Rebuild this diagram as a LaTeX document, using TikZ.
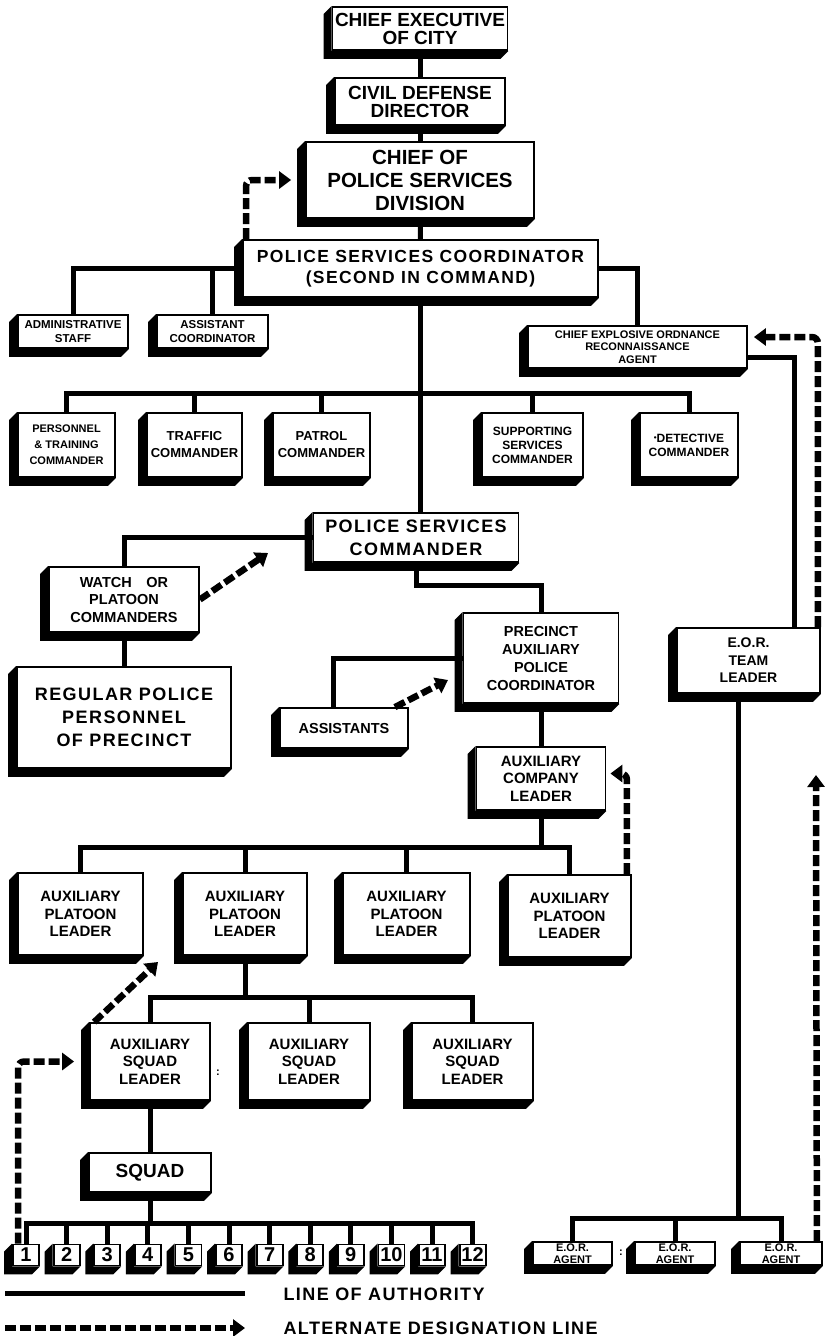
\documentclass[tikz,border=0pt]{standalone}
\usepackage{fontspec}
\setmainfont{Liberation Sans}
\newfontfamily\spacedsans[LetterSpace=8]{Liberation Sans}
\usetikzlibrary{arrows.meta,calc}

\begin{document}
\begin{tikzpicture}[x=1pt, y=-1pt,
    unit/.style={draw, line width=1.8pt, fill=white, align=center, inner sep=1pt},
    topfont/.style={font=\bfseries\fontsize{19}{18}\selectfont},
    plainfont/.style={font=\bfseries\fontsize{20.5}{23}\selectfont},
    widefont/.style={font=\spacedsans\bfseries\fontsize{18}{23}\selectfont},
    midfont/.style={font=\bfseries\fontsize{15}{17.5}\selectfont},
    smallfont/.style={font=\bfseries\fontsize{12}{14}\selectfont},
    tinyfont/.style={font=\bfseries\fontsize{11}{12.5}\selectfont},
    numfont/.style={font=\bfseries\fontsize{20}{20}\selectfont},
    authority/.style={line width=5pt},
    alternate/.style={line width=6.5pt, dash pattern=on 11pt off 4pt, -{Triangle[width=17pt,length=12pt]}}]
    \useasboundingbox (0,0) rectangle (827,1336);

    \node[unit, topfont, minimum width=175pt, minimum height=43pt] (exec) at (420,28.5) {CHIEF EXECUTIVE\\OF CITY};
    \node[unit, topfont, minimum width=170pt, minimum height=47pt] (civil) at (420,101.5) {CIVIL DEFENSE\\DIRECTOR};
    \node[unit, plainfont, minimum width=228pt, minimum height=76pt] (chief) at (420,180) {CHIEF OF\\POLICE SERVICES\\DIVISION};
    \node[unit, widefont, font=\spacedsans\bfseries\fontsize{17.5}{21}\selectfont, minimum width=355pt, minimum height=57pt] (coord) at (420.5,268.5) {POLICE SERVICES COORDINATOR\\(SECOND IN COMMAND)};
    \node[unit, tinyfont, font=\bfseries\fontsize{11.5}{14}\selectfont, minimum width=110pt, minimum height=33pt] (admin) at (73,331.5) {ADMINISTRATIVE\\STAFF};
    \node[unit, tinyfont, font=\bfseries\fontsize{11.5}{14}\selectfont, minimum width=111pt, minimum height=33pt] (assist) at (212.5,331.5) {ASSISTANT\\COORDINATOR};
    \node[unit, tinyfont, minimum width=219pt, minimum height=42pt] (ceor) at (637.5,347) {CHIEF EXPLOSIVE ORDNANCE\\RECONNAISSANCE\\AGENT};

    \node[unit, smallfont, font=\bfseries\fontsize{11}{16}\selectfont, minimum width=97pt, minimum height=64pt] (personnel) at (66.5,445) {PERSONNEL\\\& TRAINING\\COMMANDER};
    \node[unit, smallfont, font=\bfseries\fontsize{13}{17}\selectfont, minimum width=95pt, minimum height=64pt] (traffic) at (194.5,445) {TRAFFIC\\COMMANDER};
    \node[unit, smallfont, font=\bfseries\fontsize{13}{17}\selectfont, minimum width=97pt, minimum height=64pt] (patrol) at (321.5,445) {PATROL\\COMMANDER};
    \node[unit, smallfont, minimum width=101pt, minimum height=64pt] (support) at (532.5,445) {SUPPORTING\\SERVICES\\COMMANDER};
    \node[unit, smallfont, minimum width=98pt, minimum height=64pt] (detective) at (689,445) {\raisebox{2pt}{\fontsize{8}{8}\selectfont\textbullet}DETECTIVE\\COMMANDER};

    \node[unit, widefont, minimum width=205pt, minimum height=49pt] (pscmd) at (416,537.5) {POLICE SERVICES\\COMMANDER};
    \node[unit, midfont, font=\bfseries\fontsize{14.5}{17.5}\selectfont, minimum width=150pt, minimum height=65pt] (watch) at (124,599.5) {WATCH\quad OR\\PLATOON\\COMMANDERS};
    \node[unit, widefont, minimum width=214pt, minimum height=101pt] (regular) at (124,717.5) {REGULAR POLICE\\PERSONNEL\\OF PRECINCT};
    \node[unit, midfont, font=\bfseries\fontsize{14.5}{18}\selectfont, minimum width=155pt, minimum height=90pt] (precinct) at (541,658) {PRECINCT\\AUXILIARY\\POLICE\\COORDINATOR};
    \node[unit, midfont, font=\bfseries\fontsize{14.5}{17.5}\selectfont, minimum width=128pt, minimum height=40pt] (assistants) at (344,728) {ASSISTANTS};
    \node[unit, midfont, font=\bfseries\fontsize{14}{17.5}\selectfont, minimum width=143pt, minimum height=65pt] (eorlead) at (748.5,660.5) {E.O.R.\\TEAM\\LEADER};
    \node[unit, midfont, minimum width=129pt, minimum height=63pt] (company) at (541,778.5) {AUXILIARY\\COMPANY\\LEADER};

    \node[unit, midfont, minimum width=125pt, minimum height=82pt] (plat1) at (80.5,914) {AUXILIARY\\PLATOON\\LEADER};
    \node[unit, midfont, minimum width=124pt, minimum height=82pt] (plat2) at (245,914) {AUXILIARY\\PLATOON\\LEADER};
    \node[unit, midfont, minimum width=127pt, minimum height=82pt] (plat3) at (406.5,914) {AUXILIARY\\PLATOON\\LEADER};
    \node[unit, midfont, minimum width=123pt, minimum height=82pt] (plat4) at (569.5,916) {AUXILIARY\\PLATOON\\LEADER};

    \node[unit, midfont, minimum width=120pt, minimum height=77pt] (sql1) at (150,1061.5) {AUXILIARY\\SQUAD\\LEADER};
    \node[unit, midfont, minimum width=122pt, minimum height=77pt] (sql2) at (309,1061.5) {AUXILIARY\\SQUAD\\LEADER};
    \node[unit, midfont, minimum width=121pt, minimum height=77pt] (sql3) at (472.5,1061.5) {AUXILIARY\\SQUAD\\LEADER};
    \node[unit, topfont, minimum width=122pt, minimum height=39pt] (squad) at (150,1172.5) {SQUAD};

    \foreach \i in {1,...,12}
        \node[unit, numfont, inner sep=0pt, minimum width=26pt, minimum height=21pt] (n\i) at ({26+40.6*(\i-1)},1255) {\i};

    \node[unit, tinyfont, font=\bfseries\fontsize{11}{12}\selectfont, minimum width=79pt, minimum height=23pt] (agent1) at (572.5,1253.5) {E.O.R.\\AGENT};
    \node[unit, tinyfont, font=\bfseries\fontsize{11}{12}\selectfont, minimum width=80pt, minimum height=23pt] (agent2) at (675,1253.5) {E.O.R.\\AGENT};
    \node[unit, tinyfont, font=\bfseries\fontsize{11}{12}\selectfont, minimum width=82pt, minimum height=23pt] (agent3) at (781,1253.5) {E.O.R.\\AGENT};

    \node[tinyfont] (gap1) at (218,1073) {:};
    \node[tinyfont] (gap2) at (621,1253) {:};

    % block shadows
    \foreach \n in {exec,civil,chief,coord,admin,assist,ceor,personnel,traffic,patrol,support,detective,
                    pscmd,watch,regular,precinct,assistants,eorlead,company,plat1,plat2,plat3,plat4,
                    sql1,sql2,sql3,squad,n1,n2,n3,n4,n5,n6,n7,n8,n9,n10,n11,n12,agent1,agent2,agent3}
        \fill (\n.north west) -- ++(-8,8) -- ($(\n.south west)+(-8,8)$) -- ($(\n.south east)+(-8,8)$)
              -- (\n.south east) -- (\n.south west) -- cycle;

    \coordinate (cmdbar) at (420,393);
    \coordinate (platbar) at (541,847);
    \coordinate (sqlbar) at (245,997);
    \coordinate (numbar) at (150,1223);
    \coordinate (agentbar) at (678,1218);

    \draw[authority] (exec) -- (civil);
    \draw[authority] (civil) -- (chief);
    \draw[authority] (chief) -- (coord);
    \draw[authority] (coord.south) -- (coord.south |- pscmd.north);
    \draw[authority] (coord.west) -| (admin.north);
    \draw[authority] (assist.north) -- (assist.north |- coord.west);
    \draw[authority] (coord.east) -| (ceor.north);
    \draw[authority] ([yshift=-10pt]ceor.east) -| ([xshift=46pt]eorlead.north);
    \draw[authority] (personnel.north) |- (cmdbar) -| (detective.north);
    \foreach \n in {traffic,patrol,support}
        \draw[authority] (\n.north) -- (\n.north |- cmdbar);
    \draw[authority] (pscmd.west) -| (watch.north);
    \draw[authority] (watch) -- (regular);
    \draw[authority] (pscmd.south) -- ++(0,23) -| (precinct.north);
    \draw[authority] (precinct.west) -| ([xshift=-11pt]assistants.north);
    \draw[authority] (precinct) -- (company);
    \draw[authority] (company.south) -- (platbar);
    \draw[authority] (plat1.north) |- (platbar) -| (plat4.north);
    \foreach \n in {plat2,plat3}
        \draw[authority] (\n.north) -- (\n.north |- platbar);
    \draw[authority] (plat2.south) -- (sqlbar);
    \draw[authority] (sql1.north) |- (sqlbar) -| (sql3.north);
    \draw[authority] (sql2.north) -- (sql2.north |- sqlbar);
    \draw[authority] (sql1) -- (squad);
    \draw[authority] (squad.south) -- (numbar);
    \draw[authority] (n1.north) |- (numbar) -| (n12.north);
    \foreach \i in {2,...,11}
        \draw[authority] (n\i.north) -- (n\i.north |- numbar);
    \draw[authority] ([xshift=-10pt]eorlead.south) -- ([xshift=-10pt]eorlead.south |- agentbar);
    \draw[authority] (agent1.north) |- (agentbar) -| (agent3.north);
    \draw[authority] (agent2.north) -- (agent2.north |- agentbar);

    % alternate designation
    \coordinate (psctip) at (268,553);
    \coordinate (prectip) at (448,680);
    \coordinate (plattip) at (158,962);
    \coordinate (leadtip) at (816,775);
    \draw[alternate, rounded corners=6pt] ([xshift=4pt]coord.north west) |- ([xshift=-14pt]chief.west);
    \draw[alternate, rounded corners=6pt] ([xshift=-3pt]eorlead.north east) |- ([xshift=6pt,yshift=10pt]ceor.east);
    \draw[alternate] (watch.east) -- (psctip);
    \draw[alternate] ([xshift=-14pt]assistants.north east) -- (prectip);
    \draw[alternate, rounded corners=6pt] ([xshift=-5pt]plat4.north east) |- ([xshift=4pt,yshift=5pt]company.east);
    \draw[alternate] ([xshift=5pt]sql1.north west) -- (plattip);
    \draw[alternate, rounded corners=6pt] ([xshift=-8pt]n1.north) |- ([xshift=-15pt]sql1.west);
    \draw[alternate] ([xshift=-6pt]agent3.north east) -- (leadtip);

    % legend
    \coordinate (authA) at (5,1293);
    \coordinate (authB) at (245,1293);
    \coordinate (altA) at (5,1328);
    \coordinate (altB) at (245,1328);
    \draw[authority] (authA) -- (authB);
    \draw[alternate, line width=5.5pt] (altA) -- (altB);
    \node[widefont, anchor=west] (authlabel) at (280,1294) {LINE OF AUTHORITY};
    \node[widefont, anchor=west] (altlabel) at (280,1328) {ALTERNATE DESIGNATION LINE};
\end{tikzpicture}
\end{document}
